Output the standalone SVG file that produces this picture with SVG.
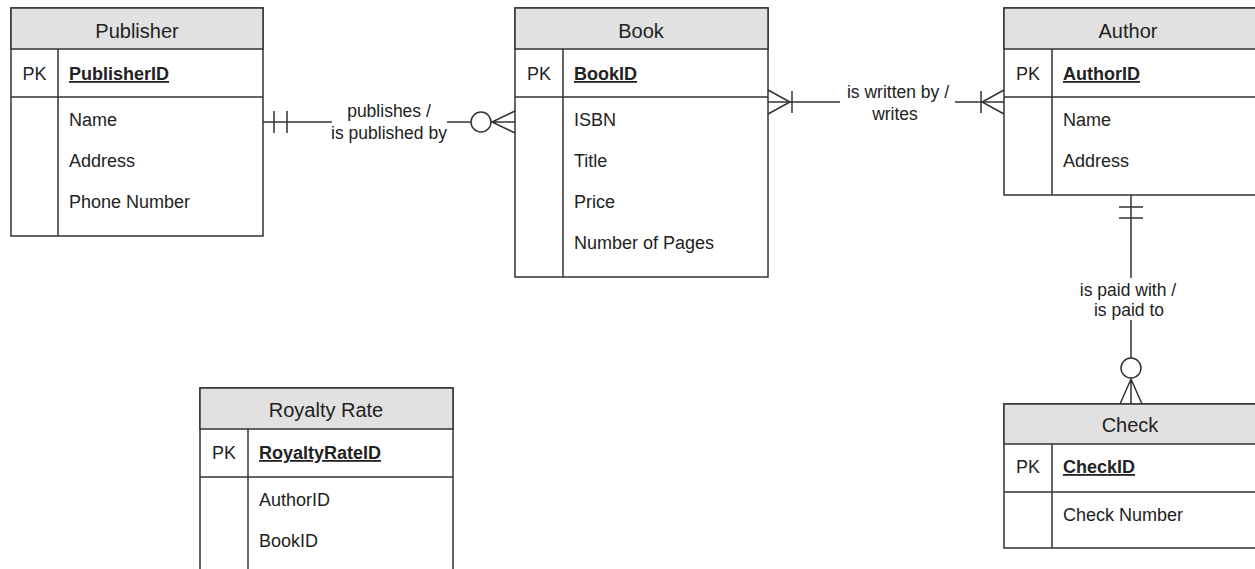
<svg xmlns="http://www.w3.org/2000/svg" width="1255" height="569" viewBox="0 0 1255 569">
<style>
.box{fill:#fff;stroke:#333;stroke-width:1.5}
.hdr{fill:#e1e1e1;stroke:#333;stroke-width:1.5}
.ln{stroke:#333;stroke-width:1.5;fill:none}
.title{font-family:"Liberation Sans",Arial,sans-serif;font-size:20px;fill:#222;text-anchor:middle}
.pk{font-family:"Liberation Sans",Arial,sans-serif;font-size:18px;fill:#222;text-anchor:middle}
.key{font-family:"Liberation Sans",Arial,sans-serif;font-size:18px;font-weight:bold;fill:#222;text-decoration:underline}
.attr{font-family:"Liberation Sans",Arial,sans-serif;font-size:18px;fill:#222}
.lbl{font-family:"Liberation Sans",Arial,sans-serif;font-size:17.5px;fill:#222;text-anchor:middle}
</style>
<rect width="1255" height="569" fill="#fff"/>

<g id="publisher">
<rect class="box" x="11" y="8" width="252" height="228"/>
<rect class="hdr" x="11" y="8" width="252" height="41"/>
<line class="ln" x1="11" y1="97" x2="263" y2="97"/>
<line class="ln" x1="58" y1="49" x2="58" y2="236"/>
<text class="title" x="137" y="38">Publisher</text>
<text class="pk" x="34.5" y="80">PK</text>
<text class="key" x="69" y="80">PublisherID</text>
<text class="attr" x="69" y="126">Name</text>
<text class="attr" x="69" y="167">Address</text>
<text class="attr" x="69" y="208">Phone Number</text>
</g>

<g id="book">
<rect class="box" x="515" y="8" width="253" height="269"/>
<rect class="hdr" x="515" y="8" width="253" height="41"/>
<line class="ln" x1="515" y1="97" x2="768" y2="97"/>
<line class="ln" x1="563" y1="49" x2="563" y2="277"/>
<text class="title" x="641" y="38">Book</text>
<text class="pk" x="539" y="80">PK</text>
<text class="key" x="574" y="80">BookID</text>
<text class="attr" x="574" y="126">ISBN</text>
<text class="attr" x="574" y="167">Title</text>
<text class="attr" x="574" y="208">Price</text>
<text class="attr" x="574" y="249">Number of Pages</text>
</g>

<g id="author">
<rect class="box" x="1004" y="8" width="262" height="187"/>
<rect class="hdr" x="1004" y="8" width="262" height="41"/>
<line class="ln" x1="1004" y1="97" x2="1266" y2="97"/>
<line class="ln" x1="1052" y1="49" x2="1052" y2="195"/>
<text class="title" x="1128" y="38">Author</text>
<text class="pk" x="1028" y="80">PK</text>
<text class="key" x="1063" y="80">AuthorID</text>
<text class="attr" x="1063" y="126">Name</text>
<text class="attr" x="1063" y="167">Address</text>
</g>

<g id="royalty-rate">
<rect class="box" x="200" y="388" width="253" height="200"/>
<rect class="hdr" x="200" y="388" width="253" height="41"/>
<line class="ln" x1="200" y1="477" x2="453" y2="477"/>
<line class="ln" x1="248" y1="429" x2="248" y2="588"/>
<text class="title" x="326" y="417">Royalty Rate</text>
<text class="pk" x="224" y="459">PK</text>
<text class="key" x="259" y="459">RoyaltyRateID</text>
<text class="attr" x="259" y="506">AuthorID</text>
<text class="attr" x="259" y="547">BookID</text>
</g>

<g id="check">
<rect class="box" x="1004" y="404" width="262" height="144"/>
<rect class="hdr" x="1004" y="404" width="262" height="40"/>
<line class="ln" x1="1004" y1="492" x2="1266" y2="492"/>
<line class="ln" x1="1052" y1="444" x2="1052" y2="548"/>
<text class="title" x="1130" y="432">Check</text>
<text class="pk" x="1028" y="473">PK</text>
<text class="key" x="1063" y="473">CheckID</text>
<text class="attr" x="1063" y="521">Check Number</text>
</g>

<g id="connectors">
<!-- Publisher - Book -->
<line class="ln" x1="263" y1="122" x2="332" y2="122"/>
<line class="ln" x1="447" y1="122" x2="471" y2="122"/>
<line class="ln" x1="274" y1="111" x2="274" y2="133"/>
<line class="ln" x1="287" y1="111" x2="287" y2="133"/>
<circle class="ln" cx="481" cy="122" r="10"/>
<path class="ln" d="M515 111 L492 122 L515 133 M491 122 L515 122"/>
<text class="lbl" x="389" y="117">publishes /</text>
<text class="lbl" x="389" y="139">is published by</text>

<!-- Book - Author -->
<line class="ln" x1="768" y1="102" x2="840" y2="102"/>
<line class="ln" x1="955" y1="102" x2="1004" y2="102"/>
<path class="ln" d="M768 90 L790 102 L768 114"/>
<line class="ln" x1="792" y1="91" x2="792" y2="113"/>
<path class="ln" d="M1004 90 L982 102 L1004 114"/>
<line class="ln" x1="981" y1="91" x2="981" y2="113"/>
<text class="lbl" x="898" y="98">is written by /</text>
<text class="lbl" x="895" y="120">writes</text>

<!-- Author - Check -->
<line class="ln" x1="1131" y1="195" x2="1131" y2="278"/>
<line class="ln" x1="1131" y1="320" x2="1131" y2="358"/>
<line class="ln" x1="1119" y1="207" x2="1143" y2="207"/>
<line class="ln" x1="1119" y1="218" x2="1143" y2="218"/>
<circle class="ln" cx="1131" cy="368" r="10"/>
<path class="ln" d="M1120 404 L1131 379 L1142 404 M1131 379 L1131 404"/>
<text class="lbl" x="1128" y="296">is paid with /</text>
<text class="lbl" x="1129" y="316">is paid to</text>
</g>
</svg>
